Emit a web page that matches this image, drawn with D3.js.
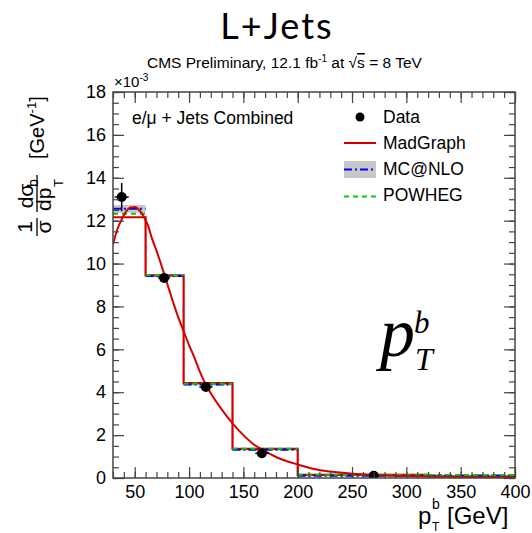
<!DOCTYPE html>
<html>
<head>
<meta charset="utf-8">
<script src="https://cdn.jsdelivr.net/npm/d3@7"></script>
<style>
body { margin: 0; background: #fff; }
svg { display: block; font-family: "Liberation Sans", Arial, sans-serif; }
</style>
</head>
<body>
<div class="chart"></div>
<script>
// histogram bins (GeV) and normalised values (x 10^-3 GeV^-1)
var binEdges = [30, 60, 95, 140, 200, 320, 400];
var madgraph = [12.16, 9.45, 4.42, 1.36, 0.15, 0.07];
var mcatnlo = [12.55, 9.42, 4.36, 1.32, 0.10, 0.12];
var mcatnloErr = [0.18, 0.06, 0.05, 0.03, 0.02, 0.02];
var powheg = [12.32, 9.45, 4.40, 1.36, 0.15, 0.14];

// data points
var dataX = [38, 77, 115.5, 167, 270];
var dataY = [13.1, 9.33, 4.24, 1.15, 0.10];
var dataYErr = [0.66, 0.15, 0.12, 0.08, 0.03];
var dataXErr = [6.5, 5.5, 6, 6, 0];

// smooth MadGraph curve
var curveX = [30, 34, 38, 42, 46, 50, 54, 58, 62, 66, 70, 75, 80, 85, 90, 95, 100, 105, 110, 115, 120, 130, 140, 150, 160, 170, 180, 190, 200, 215, 230, 250, 275, 300, 330, 360, 400];
var curveY = [10.9, 11.6, 12.06, 12.42, 12.62, 12.64, 12.5, 12.22, 11.8, 11.15, 10.6, 9.85, 9.05, 8.25, 7.5, 6.85, 6.2, 5.6, 4.95, 4.4, 3.95, 3.2, 2.55, 2.0, 1.55, 1.25, 0.98, 0.78, 0.63, 0.42, 0.3, 0.2, 0.13, 0.09, 0.07, 0.05, 0.04];

var xTicks = [50, 100, 150, 200, 250, 300, 350, 400];
var yTicks = [0, 2, 4, 6, 8, 10, 12, 14, 16, 18];

var width = 532, height = 533;
var pLeft = 113, pRight = 515, pTop = 92, pBottom = 478;

var svg = d3.select(".chart").append("svg")
	.attr("width", width)
	.attr("height", height);

var x = d3.scaleLinear().domain([30, 400]).range([pLeft, pRight]);
var y = d3.scaleLinear().domain([0, 18]).range([pBottom, pTop]);

svg.append("clipPath").attr("id", "frame")
	.append("rect").attr("x", pLeft).attr("y", pTop)
	.attr("width", pRight - pLeft).attr("height", pBottom - pTop);

var plot = svg.append("g").attr("clip-path", "url(#frame)");

function stepPoints(vals) {
	var pts = [];
	vals.forEach(function(v, i) {
		pts.push([binEdges[i], v]);
		pts.push([binEdges[i + 1], v]);
	});
	return pts;
}

var line = d3.line()
	.x(function(d) { return x(d[0]); })
	.y(function(d) { return y(d[1]); });

// flat tops only (no vertical edges)
function flatTops(vals, color, dash) {
	plot.append("g").selectAll("path")
		.data(vals)
		.enter()
		.append("path")
		.attr("d", function(d, i) { return line([[binEdges[i], d], [binEdges[i + 1], d]]); })
		.attr("fill", "none")
		.attr("stroke", color)
		.attr("stroke-width", 2)
		.attr("stroke-dasharray", dash);
}

// MC@NLO uncertainty band
plot.append("g").selectAll("rect")
	.data(mcatnlo)
	.enter()
	.append("rect")
	.attr("x", function(d, i) { return x(binEdges[i]); })
	.attr("width", function(d, i) { return x(binEdges[i + 1]) - x(binEdges[i]); })
	.attr("y", function(d, i) { return y(d + mcatnloErr[i]); })
	.attr("height", function(d, i) { return y(d - mcatnloErr[i]) - y(d + mcatnloErr[i]); })
	.attr("fill", "#c8c8c8");

// MadGraph histogram
plot.append("path")
	.attr("d", line(stepPoints(madgraph)))
	.attr("fill", "none")
	.attr("stroke", "#d40000")
	.attr("stroke-width", 2.2);

flatTops(mcatnlo, "#0000ff", "8,3,2,3");
flatTops(powheg, "#00cc00", "5,4");

// MadGraph curve
var curveLine = d3.line()
	.x(function(d) { return x(d[0]); })
	.y(function(d) { return y(d[1]); })
	.curve(d3.curveMonotoneX);
plot.append("path")
	.attr("d", curveLine(curveX.map(function(d, i) { return [d, curveY[i]]; })))
	.attr("fill", "none")
	.attr("stroke", "#d40000")
	.attr("stroke-width", 2);

// data points
var pts = plot.append("g").selectAll("g")
	.data(dataX)
	.enter()
	.append("g");

pts.append("line")
	.attr("x1", function(d) { return x(d); })
	.attr("x2", function(d) { return x(d); })
	.attr("y1", function(d, i) { return y(dataY[i] - dataYErr[i]); })
	.attr("y2", function(d, i) { return y(dataY[i] + dataYErr[i]); })
	.attr("stroke", "#000").attr("stroke-width", 1.5);

pts.append("line")
	.attr("x1", function(d, i) { return x(d - dataXErr[i]); })
	.attr("x2", function(d, i) { return x(d + dataXErr[i]); })
	.attr("y1", function(d, i) { return y(dataY[i]); })
	.attr("y2", function(d, i) { return y(dataY[i]); })
	.attr("stroke", "#000").attr("stroke-width", 1.5);

pts.append("circle")
	.attr("cx", function(d) { return x(d); })
	.attr("cy", function(d, i) { return y(dataY[i]); })
	.attr("r", 5)
	.attr("fill", "#000");

// axes
var xMinor = d3.range(30, 401, 10);
var yMinor = d3.range(0, 18.01, 0.5);

function styleAxis(g) {
	g.select(".domain").remove();
	g.selectAll("line").attr("stroke", "#444").attr("stroke-width", 1.2);
	g.selectAll("text").attr("font-size", "18px").attr("fill", "#000")
		.attr("font-family", "Liberation Sans, Arial, sans-serif");
}

svg.append("g").attr("transform", "translate(0," + pBottom + ")")
	.call(d3.axisBottom(x).tickValues(xMinor).tickSize(-6).tickFormat(""))
	.call(styleAxis);
svg.append("g").attr("transform", "translate(0," + pBottom + ")")
	.call(d3.axisBottom(x).tickValues(xTicks).tickSize(-11).tickPadding(7).tickFormat(d3.format("d")))
	.call(styleAxis);
svg.append("g").attr("transform", "translate(0," + pTop + ")")
	.call(d3.axisTop(x).tickValues(xMinor).tickSize(-6).tickFormat(""))
	.call(styleAxis);
svg.append("g").attr("transform", "translate(0," + pTop + ")")
	.call(d3.axisTop(x).tickValues(xTicks).tickSize(-11).tickFormat(""))
	.call(styleAxis);

svg.append("g").attr("transform", "translate(" + pLeft + ",0)")
	.call(d3.axisLeft(y).tickValues(yMinor).tickSize(-6).tickFormat(""))
	.call(styleAxis);
svg.append("g").attr("transform", "translate(" + pLeft + ",0)")
	.call(d3.axisLeft(y).tickValues(yTicks).tickSize(-11).tickPadding(7).tickFormat(d3.format("d")))
	.call(styleAxis);
svg.append("g").attr("transform", "translate(" + pRight + ",0)")
	.call(d3.axisRight(y).tickValues(yMinor).tickSize(-6).tickFormat(""))
	.call(styleAxis);
svg.append("g").attr("transform", "translate(" + pRight + ",0)")
	.call(d3.axisRight(y).tickValues(yTicks).tickSize(-11).tickFormat(""))
	.call(styleAxis);

svg.append("rect")
	.attr("x", pLeft).attr("y", pTop)
	.attr("width", pRight - pLeft).attr("height", pBottom - pTop)
	.attr("fill", "none").attr("stroke", "#444").attr("stroke-width", 1.5);

// titles
svg.append("text")
	.attr("x", 277).attr("y", 39)
	.attr("text-anchor", "middle")
	.attr("font-family", "Lato, sans-serif")
	.attr("font-size", "36px")
	.attr("letter-spacing", "2px")
	.text("L+Jets");

var sub = svg.append("text")
	.attr("x", 147).attr("y", 68)
	.attr("font-size", "15.5px");
sub.append("tspan").text("CMS Preliminary, 12.1 fb");
sub.append("tspan").attr("font-size", "10px").attr("dy", -6).text("-1");
sub.append("tspan").attr("dy", 6).text(" at \u221A");
sub.append("tspan").attr("text-decoration", "overline").text("s");
sub.append("tspan").text(" = 8 TeV");

var mult = svg.append("text")
	.attr("x", 114).attr("y", 87)
	.attr("font-size", "15px");
mult.append("tspan").text("\u00D710");
mult.append("tspan").attr("font-size", "10px").attr("dy", -6).text("-3");

svg.append("text")
	.attr("x", 132).attr("y", 124)
	.attr("font-size", "17.5px")
	.text("e/\u03BC + Jets Combined");

// x axis title
svg.append("text").attr("x", 418).attr("y", 524).attr("font-size", "24px").text("p");
svg.append("text").attr("x", 432).attr("y", 509).attr("font-size", "14px").text("b");
svg.append("text").attr("x", 432).attr("y", 531).attr("font-size", "12px").text("T");
svg.append("text").attr("x", 447).attr("y", 524).attr("font-size", "24px").text("[GeV]");

// y axis title
function rot(sx, sy, size, anchor, txt) {
	return svg.append("text")
		.attr("transform", "translate(" + sx + "," + sy + ") rotate(-90)")
		.attr("text-anchor", anchor)
		.attr("font-size", size)
		.text(txt);
}
rot(32, 227, "21px", "middle", "1");
rot(51, 227, "21px", "middle", "\u03C3");
rot(33, 196, "21px", "middle", "d\u03C3");
rot(51, 211, "21px", "start", "dp");
rot(38, 187, "14px", "start", "b");
rot(63, 187, "13px", "start", "T");
svg.append("line").attr("x1", 37).attr("x2", 37).attr("y1", 218).attr("y2", 236)
	.attr("stroke", "#000").attr("stroke-width", 1.3);
svg.append("line").attr("x1", 37).attr("x2", 37).attr("y1", 175).attr("y2", 212)
	.attr("stroke", "#000").attr("stroke-width", 1.3);
var unit = rot(44, 159, "20px", "start", null);
unit.append("tspan").text("[GeV");
unit.append("tspan").attr("font-size", "13px").attr("dy", -8).text("-1");
unit.append("tspan").attr("dy", 8).text("]");

// big label
svg.append("text").attr("x", 380).attr("y", 356)
	.attr("font-family", "Liberation Serif, serif").attr("font-style", "italic")
	.attr("font-size", "70px").text("p");
svg.append("text").attr("x", 414).attr("y", 333)
	.attr("font-family", "Liberation Serif, serif").attr("font-style", "italic")
	.attr("font-size", "31px").text("b");
svg.append("text").attr("x", 415).attr("y", 370)
	.attr("font-family", "Liberation Serif, serif").attr("font-style", "italic")
	.attr("font-size", "32px").text("T");

// legend
var lg = svg.append("g");
lg.append("circle").attr("cx", 360).attr("cy", 117).attr("r", 4.5).attr("fill", "#000");
lg.append("line").attr("x1", 344).attr("x2", 376).attr("y1", 143).attr("y2", 143)
	.attr("stroke", "#d40000").attr("stroke-width", 2);
lg.append("rect").attr("x", 344).attr("y", 161).attr("width", 32).attr("height", 17).attr("fill", "#c8c8c8");
lg.append("line").attr("x1", 344).attr("x2", 376).attr("y1", 169.5).attr("y2", 169.5)
	.attr("stroke", "#0000ff").attr("stroke-width", 2).attr("stroke-dasharray", "8,3,2,3");
lg.append("line").attr("x1", 344).attr("x2", 376).attr("y1", 196.5).attr("y2", 196.5)
	.attr("stroke", "#00cc00").attr("stroke-width", 2).attr("stroke-dasharray", "5,4");
var legendNames = ["Data", "MadGraph", "MC@NLO", "POWHEG"];
lg.selectAll("text.lab")
	.data(legendNames)
	.enter()
	.append("text")
	.attr("class", "lab")
	.attr("x", 383)
	.attr("y", function(d, i) { return 123 + i * 26; })
	.attr("font-size", "17.5px")
	.text(function(d) { return d; });
</script>
</body>
</html>
